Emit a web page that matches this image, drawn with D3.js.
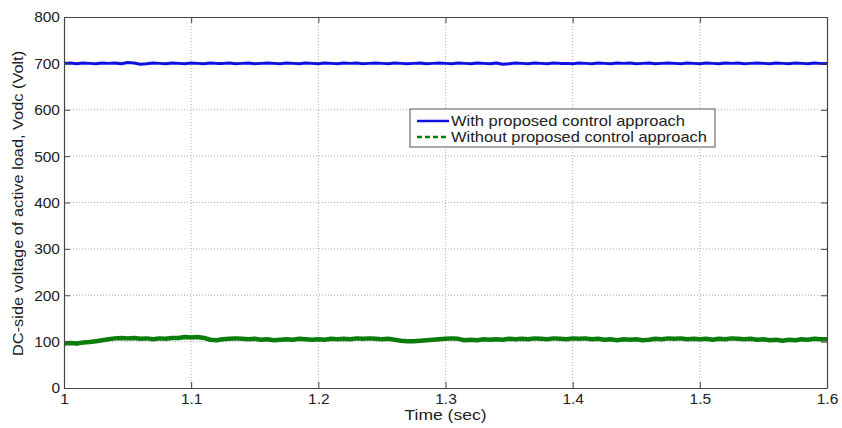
<!DOCTYPE html>
<html lang="en">
<head>
<meta charset="utf-8">
<title>DC-side voltage of active load</title>
<style>
  html,body { margin:0; padding:0; background:#fff; }
  svg { display:block; }
  text { font-family: "Liberation Sans", Arial, sans-serif; fill:#222; }
</style>
<script src="https://d3js.org/d3.v7.min.js"></script>
</head>
<body>
<svg width="842" height="428"></svg>
<script>
// time axis: 1.0 .. 1.6 s, one sample every 5 ms
const T0 = 1.0, DT = 0.005;

// (Volt)
const withControl = [
  700,701,699,701,700,699,701,700,701,699,702,701,698,699,701,700,699,701,700,699,
  701,700,699,701,700,700,701,699,700,701,699,700,701,700,699,701,700,699,701,700,
  699,701,700,699,701,700,701,699,700,701,700,699,701,700,699,700,701,699,700,701,
  700,699,701,700,699,701,700,699,701,698,699,701,700,699,701,700,699,701,700,700,
  699,701,700,699,701,700,699,701,700,701,699,700,701,699,700,701,700,699,701,700,
  699,701,700,699,701,700,701,699,700,701,700,699,701,700,699,701,700,699,701,700,
  700
];
const withoutControl = [
  96,97,96,98,99,101,103,105,107,108,107,108,106,107,105,107,106,108,108,110,
  109,110,108,104,103,105,106,107,106,105,106,104,105,103,104,105,104,106,105,104,
  105,104,106,105,106,105,107,106,107,106,105,106,104,102,101,101,102,103,104,105,
  106,107,106,103,104,103,105,104,105,104,106,105,106,105,107,106,105,107,106,105,
  107,106,107,105,106,104,105,103,105,104,105,103,104,106,105,107,106,107,105,106,
  105,106,104,106,105,107,106,105,106,104,105,103,104,102,104,103,105,104,106,105,
  105
];

const xTicks = [1, 1.1, 1.2, 1.3, 1.4, 1.5, 1.6];
const yTicks = [0, 100, 200, 300, 400, 500, 600, 700, 800];
const seriesNames = ["With proposed control approach", "Without proposed control approach"];

const W = 842, H = 428;
const m = {left:64, right:15, top:17, bottom:40};
const iw = W - m.left - m.right, ih = H - m.top - m.bottom;

const svg = d3.select("svg");
const x = d3.scaleLinear().domain([1, 1.6]).range([m.left, m.left + iw]);
const y = d3.scaleLinear().domain([0, 800]).range([m.top + ih, m.top]);

const toPts = arr => arr.map((v, i) => [T0 + i * DT, v]);

// grid
const grid = svg.append("g").attr("stroke", "#999").attr("stroke-width", 0.8)
  .attr("stroke-dasharray", "1,2");
grid.selectAll("line.gx").data(xTicks.slice(1, -1)).join("line")
  .attr("x1", d => x(d)).attr("x2", d => x(d)).attr("y1", y(800)).attr("y2", y(0));
grid.selectAll("line.gy").data(yTicks.slice(1, -1)).join("line")
  .attr("y1", d => y(d)).attr("y2", d => y(d)).attr("x1", x(1)).attr("x2", x(1.6));

// lines
const line = d3.line().x(d => x(d[0])).y(d => y(d[1]));
svg.append("path").datum(toPts(withoutControl)).attr("d", line)
  .attr("fill", "none").attr("stroke", "#0a7d0a").attr("stroke-width", 4.5)
  .attr("stroke-linejoin", "round");
svg.append("path").datum(toPts(withControl)).attr("d", line)
  .attr("fill", "none").attr("stroke", "#1010e0").attr("stroke-width", 3)
  .attr("stroke-linejoin", "round");

// axes (MATLAB style: ticks inward, box)
const ax = svg.append("g");
ax.append("g").attr("transform", `translate(0,${y(0)})`)
  .call(d3.axisBottom(x).tickValues(xTicks).tickFormat(d3.format("")).tickSizeInner(-6).tickSizeOuter(0).tickPadding(5));
ax.append("g").attr("transform", `translate(0,${y(800)})`)
  .call(d3.axisTop(x).tickValues(xTicks).tickFormat("").tickSizeInner(-6).tickSizeOuter(0));
ax.append("g").attr("transform", `translate(${x(1)},0)`)
  .call(d3.axisLeft(y).tickValues(yTicks).tickSizeInner(-6).tickSizeOuter(0).tickPadding(4));
ax.append("g").attr("transform", `translate(${x(1.6)},0)`)
  .call(d3.axisRight(y).tickValues(yTicks).tickFormat("").tickSizeInner(-6).tickSizeOuter(0));
ax.selectAll(".domain").attr("stroke", "#444").attr("stroke-width", 1.2);
ax.selectAll(".tick line").attr("stroke", "#444");
ax.selectAll(".tick text").attr("font-size", 15.5).attr("fill", "#222")
  .attr("font-family", "Liberation Sans, Arial, sans-serif");

// axis labels
svg.append("text").attr("x", x(1.3)).attr("y", 420).attr("text-anchor", "middle")
  .attr("font-size", 14.5).attr("textLength", 82).attr("lengthAdjust", "spacingAndGlyphs")
  .text("Time (sec)");
svg.append("text").attr("transform", `translate(23,${y(398)}) rotate(-90)`)
  .attr("text-anchor", "middle").attr("font-size", 14.5)
  .attr("textLength", 305).attr("lengthAdjust", "spacingAndGlyphs")
  .text("DC-side voltage of active load, Vodc (Volt)");

// legend
const lg = svg.append("g").attr("transform", "translate(410,109)");
lg.append("rect").attr("width", 305).attr("height", 38)
  .attr("fill", "#fff").attr("stroke", "#555").attr("stroke-width", 1);
const items = [
  {name: seriesNames[0], color: "#1010e0", dash: null, len: 234},
  {name: seriesNames[1], color: "#0a7d0a", dash: "5,3", len: 256}
];
items.forEach((it, i) => {
  const yy = 12 + i * 16;
  lg.append("line").attr("x1", 7).attr("x2", 39).attr("y1", yy).attr("y2", yy)
    .attr("stroke", it.color).attr("stroke-width", 2.5).attr("stroke-dasharray", it.dash);
  lg.append("text").attr("x", 41).attr("y", yy + 5).attr("font-size", 15)
    .attr("textLength", it.len).attr("lengthAdjust", "spacingAndGlyphs").text(it.name);
});
</script>
</body>
</html>
